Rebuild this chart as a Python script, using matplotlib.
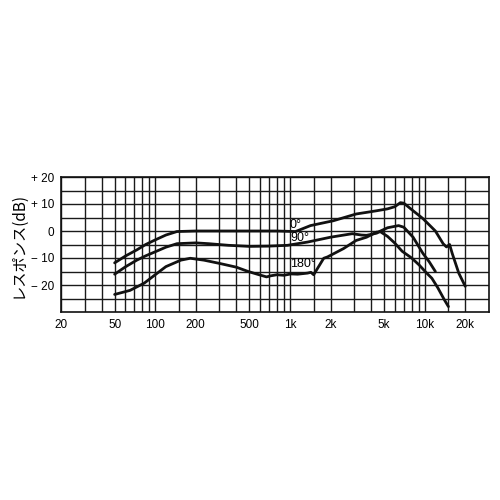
import numpy as np
import matplotlib
matplotlib.use("Agg")
from matplotlib import pyplot as plt

# frequency response (Hz, dB)
f0 = [50, 60, 73, 85, 100, 120, 145, 200, 300, 500, 800, 1100, 1420, 2100, 3100, 3700,
      4400, 5300, 6000, 6600, 7000, 8200, 9700, 12000, 13700, 14500, 15300, 16000, 17900, 20000]
db0 = [-11.8, -9.3, -7.0, -5.0, -3.3, -1.5, -0.2, 0.0, 0.0, 0.0, 0.0, -0.2, 2.0, 3.8, 6.3, 6.9,
       7.5, 8.2, 9.0, 10.5, 10.3, 7.5, 4.6, 0.0, -4.7, -5.9, -5.0, -8.3, -15.6, -20.5]

f90 = [50, 60, 73, 85, 100, 120, 145, 200, 250, 350, 500, 700, 960, 1350, 2000, 2900,
       3400, 3700, 4400, 4700, 5300, 6400, 7000, 8200, 9700, 10800, 12000]
db90 = [-16.0, -13.3, -10.8, -9.2, -7.7, -6.0, -4.7, -4.4, -4.7, -5.3, -5.7, -5.6, -5.3, -4.1, -2.3, -1.0,
        -1.5, -1.6, -0.8, 0.0, 1.2, 2.0, 1.4, -2.3, -8.3, -11.4, -15.0]

f180 = [50, 65, 83, 100, 120, 155, 182, 230, 300, 400, 490, 590, 670, 720, 800, 900, 1020,
        1140, 1350, 1430, 1500, 1780, 1900, 2500, 3100, 3700, 4400, 4700, 5300, 6000, 6800,
        8000, 9100, 10300, 11300, 12500, 14000, 15000]
db180 = [-23.5, -22.0, -19.3, -16.2, -13.2, -10.8, -10.1, -10.8, -12.0, -13.4, -15.0, -16.2, -17.0,
         -16.6, -16.2, -16.4, -15.9, -16.0, -15.6, -15.3, -16.2, -10.1, -9.6, -6.5, -3.5, -2.3,
         -0.4, -0.3, -2.0, -4.5, -7.5, -10.0, -12.6, -15.5, -17.5, -21.0, -25.5, -28.0]

xticks = [20, 50, 100, 200, 500, 1000, 2000, 5000, 10000, 20000]
xlabels = ["20", "50", "100", "200", "500", "1k", "2k", "5k", "10k", "20k"]
xminor = [30, 40, 60, 70, 80, 90, 150, 300, 400, 600, 700, 800, 900, 1500,
          3000, 4000, 6000, 7000, 8000, 9000, 15000]
yticks = [-20, -10, 0, 10, 20]
ylabels = ["\u2212 20", "\u2212 10", "0", "+ 10", "+ 20"]
yminor = [-25, -15, -5, 5, 15]

plt.rcParams['font.family'] = ['Liberation Sans', 'DejaVu Sans']

fig = plt.figure(figsize=(5, 5), dpi=100)
ax = fig.add_axes([61 / 500, 1 - 312 / 500, 428 / 500, 135 / 500])

ax.set_xscale('log')
ax.set_xlim(20, 30000)
ax.set_ylim(-30, 20)

ax.set_xticks(xticks)
ax.set_xticklabels(xlabels)
ax.set_xticks(xminor, minor=True)
ax.set_yticks(yticks)
ax.set_yticklabels(ylabels)
ax.set_yticks(yminor, minor=True)
ax.xaxis.set_minor_formatter(matplotlib.ticker.NullFormatter())
ax.tick_params(which='both', length=0, labelsize=8.5, colors='black')
ax.tick_params(axis='x', pad=5)
ax.tick_params(axis='y', pad=5)
ax.grid(which='both', color='#1a1a1a', lw=1.0)
for s in ax.spines.values():
    s.set_linewidth(1.2)
    s.set_color('#111111')

for f, d in [(f0, db0), (f90, db90), (f180, db180)]:
    ax.plot(f, d, color='#111111', lw=2.0, solid_capstyle='round', zorder=3)

ax.text(1000, 2.4, "0°", fontsize=9, ha='left', va='center', zorder=4)
ax.text(1000, -2.6, "90°", fontsize=9, ha='left', va='center', zorder=4)
ax.text(1000, -12.4, "180°", fontsize=9, ha='left', va='center', zorder=4)

fig.text(18 / 500, 1 - 245 / 500, "レスポンス(dB)", rotation=90, fontsize=11,
         family=['Noto Sans CJK JP', 'DejaVu Sans'], ha='center', va='center', color='black')

fig.savefig("out.png", dpi=100, facecolor='white')
